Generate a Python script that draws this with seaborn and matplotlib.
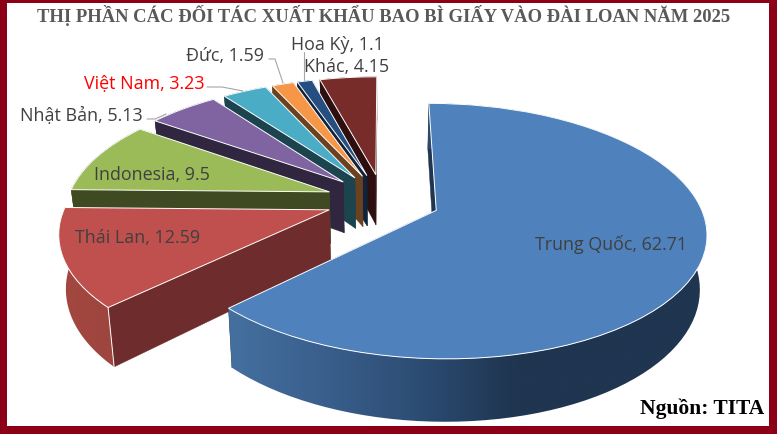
"""
3D-looking exploded pie, share of paper packaging exporters to Taiwan
"""

import numpy as np
import matplotlib
matplotlib.use("Agg")
import matplotlib.pyplot as plt
from matplotlib.patches import Polygon
from matplotlib.transforms import Transform
import seaborn as sns

TITLE = "THỊ PHẦN CÁC ĐỐI TÁC XUẤT KHẨU BAO BÌ GIẤY VÀO ĐÀI LOAN NĂM 2025"
SOURCE = "Nguồn: TITA"

partners = ["Trung Quốc", "Thái Lan", "Indonesia", "Nhật Bản", "Việt Nam", "Đức", "Hoa Kỳ", "Khác"]
shares = [62.71, 12.59, 9.5, 5.13, 3.23, 1.59, 1.1, 4.15]
share_labels = ["62.71", "12.59", "9.5", "5.13", "3.23", "1.59", "1.1", "4.15"]

top_colors = ["#4f81bd", "#c0504d", "#9bbb59", "#8064a2", "#4bacc6", "#f79646", "#254f80", "#772c2a"]
wall_colors = ["#1f3550", "#6e2c2c", "#3f4a22", "#30263f", "#1b444f", "#6a4220", "#10233c", "#2e0f0f"]

# label anchor in picture pixels
label_pos = [(611, 245), (138, 238), (152, 175), (81, 116), (144, 83), (225, 56), (337, 45), (347, 67)]
leaders = [
    [(147, 119), (155, 119), (166, 114)],
    [(207, 87), (222, 87), (243, 91)],
    [(269, 59), (275, 59), (283, 83)],
    [(304, 52), (304, 80)],
]

# projection of the unit pie on the picture
CX, CY, R, K, P, D = 383, 200, 262, 0.462, 0.16, 52
EXPLODE = 0.2176
Z_SHRINK = 0.022


def project(x, y, z=0.0):
    w = 1 + P * y
    return CX + R * x / w * (1 - Z_SHRINK * z), CY - R * K * y / w + D * z / w


class PieProjection(Transform):
    input_dims = 2
    output_dims = 2

    def transform_non_affine(self, values):
        sx, sy = project(values[:, 0], values[:, 1])
        return np.column_stack([sx, sy])


def draw_walls(ax, wedge, wall, order, gradient=None):
    cx, cy = wedge.center
    t = np.radians(np.linspace(wedge.theta1, wedge.theta2, 90))
    xs = cx + np.cos(t)
    ys = cy + np.sin(t)

    # flat walls along the two cut edges
    for px, py in [(xs[0], ys[0]), (xs[-1], ys[-1])]:
        x0, y0 = project(cx, cy)
        x1, y1 = project(px, py)
        x2, y2 = project(px, py, 1)
        x3, y3 = project(cx, cy, 1)
        ax.fill([x0, x1, x2, x3], [y0, y1, y2, y3], color=wall, lw=0.3, zorder=order)

    # rounded outer wall
    ux, uy = project(xs, ys)
    lx, ly = project(xs, ys, 1)
    px = np.r_[ux, lx[::-1]]
    py = np.r_[uy, ly[::-1]]
    if gradient is None:
        ax.fill(px, py, color=wall, lw=0.3, zorder=order + 1)
        return
    # gradient image cut to the wall outline
    cmap = sns.blend_palette(gradient, as_cmap=True)
    img = ax.imshow(np.linspace(0, 1, 256)[None, :], cmap=cmap, aspect="auto",
                    extent=[px.min(), px.max(), py.max(), py.min()], zorder=order + 1)
    outline = Polygon(np.column_stack([px, py]), closed=True, transform=ax.transData)
    img.set_clip_path(outline)


def main():
    sns.set_theme(style="white")
    plt.rcParams["font.family"] = ["Open Sans", "DejaVu Sans"]

    fig = plt.figure(figsize=(7.77, 4.34), dpi=100)
    ax = fig.add_axes([0, 0, 1, 1])

    wedges, _ = ax.pie(
        shares,
        explode=[EXPLODE] * len(shares),
        colors=top_colors,
        startangle=90,
        counterclock=False,
        wedgeprops={"edgecolor": "white", "linewidth": 0.7},
    )

    gradients = {
        0: ["#44709f", "#3a5f8c", "#2c4c73", "#1f3550", "#1f3550", "#1f3550"],
        1: ["#a3483f", "#9e4540"],
    }

    # far slices first, Trung Quốc last
    proj = PieProjection() + ax.transData
    paint_order = [7, 6, 5, 4, 3, 2, 1, 0]
    for rank, i in enumerate(paint_order):
        base = 10 + rank * 5
        draw_walls(ax, wedges[i], wall_colors[i], base, gradients.get(i))
        wedges[i].set_transform(proj)
        wedges[i].set_zorder(base + 2)

    # white corner line on the Thái Lan tip
    w = wedges[1]
    tip = np.radians(w.theta2)
    px, py = w.center[0] + np.cos(tip), w.center[1] + np.sin(tip)
    x0, y0 = project(px, py)
    x1, y1 = project(px, py, 1)
    ax.plot([x0, x1], [y0, y1], color="white", lw=0.7, zorder=10 + 6 * 5 + 3)

    for pts in leaders:
        ax.plot([p[0] for p in pts], [p[1] for p in pts], color="#a6a6a6", lw=0.8, zorder=60)

    for name, val, pos in zip(partners, share_labels, label_pos):
        ax.text(pos[0], pos[1], f"{name}, {val}", ha="center", va="center", fontsize=12.9,
                color="red" if name == "Việt Nam" else "#404040", zorder=70)

    ax.text(384, 15, TITLE, ha="center", va="center", fontsize=13.4, fontweight="bold",
            family="Liberation Serif", color="#595959", zorder=70)
    ax.text(702, 409, SOURCE, ha="center", va="center", fontsize=15.5, fontweight="bold",
            family="Liberation Serif", color="black", zorder=70)

    ax.set_aspect("auto")
    ax.set_xlim(0, 777)
    ax.set_ylim(434, 0)
    ax.set_axis_off()

    # dark red frame
    frame = "#8b0016"
    ax.axvspan(0, 7, color=frame, lw=0, zorder=80)
    ax.axvspan(769, 777, color=frame, lw=0, zorder=80)
    ax.axhspan(0, 3, color=frame, lw=0, zorder=80)
    ax.axhspan(426, 434, color=frame, lw=0, zorder=80)

    fig.savefig("out.png", dpi=100)


if __name__ == "__main__":
    main()
